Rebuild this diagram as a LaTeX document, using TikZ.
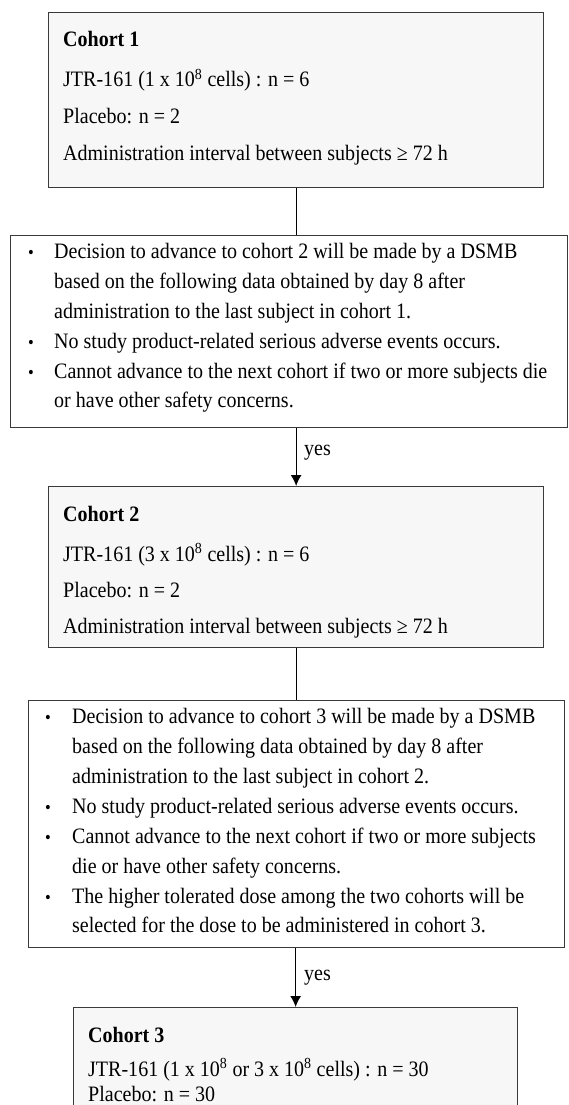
\documentclass[tikz,border=0pt]{standalone}
\usepackage{fontspec}
\setmainfont{Liberation Serif}[FakeStretch=0.91]
\usetikzlibrary{arrows.meta}
\definecolor{boxline}{HTML}{3A3A3A}
\definecolor{cohortfill}{HTML}{F7F7F7}
\begin{document}
\begin{tikzpicture}[x=1pt,y=-1pt,
  cohortbox/.style={draw=boxline, fill=cohortfill, line width=1.3pt, inner sep=0pt, anchor=north west},
  decbox/.style={draw=boxline, fill=white, line width=1.3pt, inner sep=0pt, anchor=north west},
  txt/.style={anchor=base west, inner sep=0pt, font=\fontsize{22}{26}\selectfont},
  ttl/.style={txt, font=\fontsize{22}{26}\selectfont\bfseries},
  bul/.style={anchor=base west, inner sep=0pt, font=\fontsize{18}{20}\selectfont},
  conn/.style={line width=1.3pt, draw=black},
  arr/.style={conn, -{Latex[length=11pt,width=11pt]}}]
\useasboundingbox (0,0) rectangle (569,1105);
\clip (0,0) rectangle (569,1105);
\fill[white] (0,0) rectangle (569,1105);

% boxes
\node[cohortbox, minimum width=495pt, minimum height=175pt] (b1) at (48,12) {};
\node[decbox, minimum width=557pt, minimum height=192pt] (b2) at (10,235) {};
\node[cohortbox, minimum width=495pt, minimum height=161pt] (b3) at (48,486) {};
\node[decbox, minimum width=536pt, minimum height=247pt] (b4) at (28,700) {};
\node[cohortbox, minimum width=444pt, minimum height=200pt] (b5) at (73,1007) {};

% connectors
\draw[conn] (b1.south) -- (b1.south |- b2.north);
\draw[arr] (b3.north |- b2.south) -- (b3.north);
\draw[conn] (b3.south) -- (b3.south |- b4.north);
\draw[arr] (b5.north |- b4.south) -- (b5.north);
\node[txt] (yes1) at (304,455) {yes};
\node[txt] (yes2) at (304,980) {yes};

% cohort 1
\node[ttl] (c1t) at (63,47) {Cohort 1};
\node[txt] (c1a) at (63,87) {JTR-161 (1 x 10\textsuperscript{8} cells) : n = 6};
\node[txt] (c1b) at (63,124) {Placebo: n = 2};
\node[txt] (c1c) at (63,160) {Administration interval between subjects ≥ 72 h};

% decision 1
\node[bul] (d1b1) at (28,258) {•};
\node[txt] (d1a) at (54,258) {Decision to advance to cohort 2 will be made by a DSMB};
\node[txt] (d1b) at (54,288) {based on the following data obtained by day 8 after};
\node[txt] (d1c) at (54,318) {administration to the last subject in cohort 1.};
\node[bul] (d1b2) at (28,348) {•};
\node[txt] (d1d) at (54,348) {No study product-related serious adverse events occurs.};
\node[bul] (d1b3) at (28,378) {•};
\node[txt] (d1e) at (54,378) {Cannot advance to the next cohort if two or more subjects die};
\node[txt] (d1f) at (54,407) {or have other safety concerns.};

% cohort 2
\node[ttl] (c2t) at (63,521) {Cohort 2};
\node[txt] (c2a) at (63,561) {JTR-161 (3 x 10\textsuperscript{8} cells) : n = 6};
\node[txt] (c2b) at (63,597) {Placebo: n = 2};
\node[txt] (c2c) at (63,633) {Administration interval between subjects ≥ 72 h};

% decision 2
\node[bul] (d2b1) at (45,723) {•};
\node[txt] (d2a) at (72,723) {Decision to advance to cohort 3 will be made by a DSMB};
\node[txt] (d2b) at (72,753) {based on the following data obtained by day 8 after};
\node[txt] (d2c) at (72,783) {administration to the last subject in cohort 2.};
\node[bul] (d2b2) at (45,813) {•};
\node[txt] (d2d) at (72,813) {No study product-related serious adverse events occurs.};
\node[bul] (d2b3) at (45,843) {•};
\node[txt] (d2e) at (72,843) {Cannot advance to the next cohort if two or more subjects};
\node[txt] (d2f) at (72,873) {die or have other safety concerns.};
\node[bul] (d2b4) at (45,903) {•};
\node[txt] (d2g) at (72,903) {The higher tolerated dose among the two cohorts will be};
\node[txt] (d2h) at (72,932) {selected for the dose to be administered in cohort 3.};

% cohort 3
\node[ttl] (c3t) at (88,1042) {Cohort 3};
\node[txt] (c3a) at (88,1076) {JTR-161 (1 x 10\textsuperscript{8} or 3 x 10\textsuperscript{8} cells) : n = 30};
\node[txt] (c3b) at (88,1101) {Placebo: n = 30};
\end{tikzpicture}
\end{document}
